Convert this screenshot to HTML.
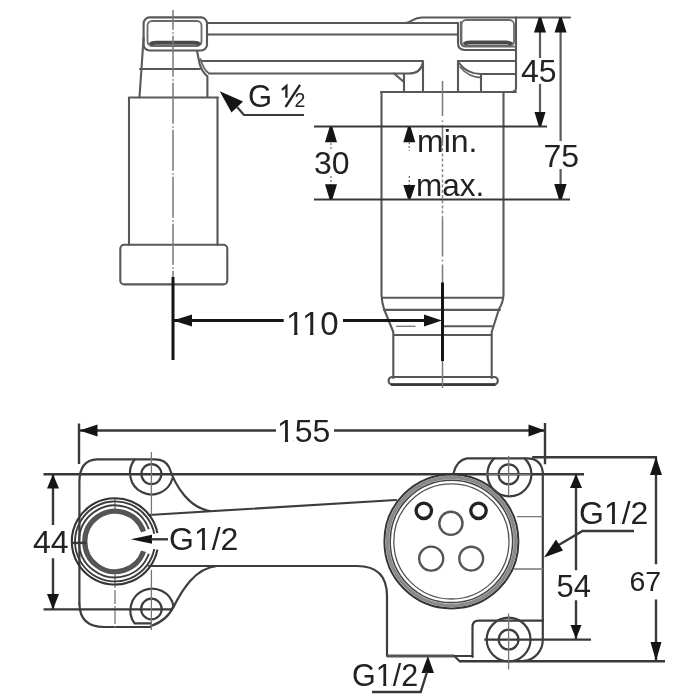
<!DOCTYPE html>
<html><head><meta charset="utf-8">
<style>
html,body{margin:0;padding:0;background:#fff;}
svg{display:block;will-change:transform;filter:blur(0.45px);}
text{font-family:"Liberation Sans",sans-serif;fill:#222;font-size:32px;opacity:0.999;}
.o{fill:none;stroke:#585858;stroke-width:2.1;stroke-linecap:round;stroke-linejoin:round;}
.g{fill:none;stroke:#6a6a6a;stroke-width:1.8;stroke-linecap:round;stroke-linejoin:round;}
.t{fill:none;stroke:#777;stroke-width:1.3;}
.d{fill:none;stroke:#383838;stroke-width:2.2;}
.k{fill:none;stroke:#151515;stroke-width:3;}
.c{fill:none;stroke:#7a7a7a;stroke-width:1.5;stroke-dasharray:41 2.5 1.5 2;}
.a{fill:#151515;stroke:none;}
.bv .o{stroke-width:2.2;stroke:#3d3d3d;}
.bv .d{stroke-width:2.4;}
</style></head><body>
<svg width="700" height="700" viewBox="0 0 700 700">
<rect width="700" height="700" fill="#fff"/>
<!-- ============ TOP VIEW ============ -->
<!-- left head -->
<rect class="o" x="143.6" y="17.4" width="63.4" height="33.1" rx="6"/>
<rect class="g" x="147.5" y="21" width="54" height="25" rx="4.5"/>
<path d="M150,44.5 Q152,42.8 156,42.8 H194 Q198,42.8 200,44.5" fill="none" stroke="#4a4a4a" stroke-width="4"/>
<!-- top bar -->
<path class="o" d="M207,23 H458"/>
<path class="o" d="M405,23 C411,23 413,17.5 422,17.5 H570"/>
<path class="o" d="M207,34.5 H458"/>
<!-- right head -->
<path class="o" d="M458,23 V43 Q458,50 465,50 H516"/>
<path class="o" d="M516,17.5 V88 Q516,92 511,92"/>
<rect class="g" x="461.5" y="20" width="52.5" height="26" rx="4.5"/>
<path d="M464,44.2 Q466,42.6 470,42.6 H506 Q510,42.6 512,44.2" fill="none" stroke="#4a4a4a" stroke-width="4"/>
<path class="g" d="M460.7,22 V42 Q460.7,46.6 466,46.6 H515"/>
<!-- lower bar -->
<path class="o" d="M201.5,61 H423 V92"/>
<path class="o" d="M209,73.5 H409 Q421,73.5 423,62"/>
<path class="o" d="M394,73.5 L404,82 M404,74 V92"/>
<!-- neck left -->
<path class="o" d="M143.6,38 L139.5,97"/>
<path class="o" d="M197,51 L199.7,64 Q201.5,71 207.4,76.5 V97"/>
<path class="g" d="M200.5,59 Q203,69 209,73.5"/>
<path class="o" d="M140,69 H200"/>
<!-- right lower head -->
<path class="o" d="M458,61 V92"/>
<path class="o" d="M458,61 H516"/>
<path class="o" d="M459,63 Q467,74 481,74 H516"/>
<path class="g" d="M460,67 Q469,77.5 481,77.5"/>
<path class="o" d="M481,75 V92"/>
<!-- left body -->
<path class="o" d="M129,97.5 H218 M129,97.5 V245 M217.5,97.5 V245"/>
<rect class="o" x="120.3" y="244.8" width="107" height="39.6" rx="4"/>
<!-- right body -->
<path class="o" d="M381,92 H516"/>
<path class="o" d="M381.5,92 V295 Q382,303 384,309 L393.3,332 V378"/>
<path class="o" d="M503.5,92 V295 Q503,303 499,309 L491.7,332 V378"/>
<path class="o" d="M382,297.7 H503"/>
<path class="o" d="M384,309.9 H500"/>
<path class="t" d="M396,326.3 H415.5"/>
<path class="o" d="M443.5,326.3 H492"/>
<path class="o" d="M394,335 H491"/>
<rect x="388.6" y="377" width="109.2" height="7.6" rx="3.8" fill="none" stroke="#555" stroke-width="2.2"/>
<path d="M391,384.6 H495.5" fill="none" stroke="#3a3a3a" stroke-width="2.8"/>
<!-- centerlines -->
<path class="c" d="M173,10 V279" stroke-dashoffset="21.25"/>
<path d="M442.5,81 V116 M442.5,120.5 V122 M442.5,125 V143 M442.5,218.5 V256.5 M442.5,259.8 V261.2 M442.5,264.5 V388" fill="none" stroke="#7a7a7a" stroke-width="1.5"/>
<path d="M442.5,143 V218.5" fill="none" stroke="#8a8a8a" stroke-width="1.5" stroke-dasharray="3 2.2"/>
<!-- dim 45/75 -->
<path class="d" d="M314,126.5 H547"/>
<path class="d" d="M314,199.5 H570"/>
<path class="d" d="M540,17.5 V58 M540,84 V126.5" style="stroke:#5a5a5a"/>
<path class="a" d="M538.8,17.6 L541.2,17.6 L546,32.4 L534,32.4Z M538.8,126.2 L541.2,126.2 L545.5,112 L534.5,112Z"/>
<path class="d" d="M560.6,17.5 V141 M560.6,169 V199.5" style="stroke:#5a5a5a"/>
<path class="a" d="M559.4,17.6 L561.8,17.6 L566.6,32.4 L554.6,32.4Z M558.9,199.3 L561.9,199.3 L566.6,184 L554.2,184Z"/>
<!-- dim 30 -->
<path class="t" d="M331,143 V150 M331,176 V185" stroke-dasharray="2 2"/>
<path class="a" d="M329.6,127 L332.4,127 L337,142.2 L325,142.2Z M329.6,199.3 L332.4,199.3 L337,184.3 L325,184.3Z"/>
<path class="a" d="M407.9,127 L410.7,127 L415.3,142.2 L403.3,142.2Z M407.9,198.8 L410.7,198.8 L415.3,185 L403.3,185Z"/>
<path class="t" d="M409.3,142 V151 M409.3,176 V185" stroke-dasharray="2 2"/>
<!-- G 1/2 leader -->
<path class="a" d="M219.7,91.2 L231.5,112.5 L243,101.5Z"/>
<path class="d" d="M237,107 L244,115 H304"/>
<!-- dim 110 -->
<path class="k" d="M173,277 V360 M442.5,282.5 V361"/>
<path class="k" d="M173,320.6 H283.7 M343,320.6 H426" stroke-width="2.8"/>
<path class="a" d="M173,320.6 L192,314.6 L192,326.6Z M442,320.6 L424,314.6 L424,326.6Z"/>
<!-- texts top -->
<text x="248" y="107" style="font-size:31px">G</text>
<path d="M282,89.8 L286.4,86 V97.8" fill="none" stroke="#222" stroke-width="2.3" stroke-linejoin="miter"/>
<path d="M285.5,107 L300,84.8" fill="none" stroke="#222" stroke-width="2.3"/>
<text x="294.6" y="107.3" style="font-size:19.5px">2</text>
<text x="521" y="82">45</text>
<text x="314" y="174">30</text>
<text x="543.5" y="167">75</text>
<text x="417" y="151.5">min.</text>
<text x="416" y="196" style="font-size:31.5px">max.</text>
<text x="286" y="335" style="font-size:33px">110</text>
<!-- ============ BOTTOM VIEW ============ -->
<g class="bv">
<!-- dim 155 -->
<path class="d" d="M79,423.5 V464 M545,423 V464.3"/>
<path class="d" d="M79,430.5 H276 M334,430.5 H545"/>
<path class="a" d="M79.5,430.5 L97.5,424.4 L97.5,436.6Z M545,430.5 L528.5,424.4 L528.5,436.6Z"/>
<text x="277" y="441.5" style="font-size:32px">155</text>
<!-- extension lines -->
<path class="d" d="M43.5,474.2 H584"/>
<path class="d" d="M43.5,609.4 H173"/>
<path class="d" d="M532.2,457.3 H657"/>
<path class="d" d="M459,661.3 H665"/>
<path class="d" d="M484.3,639.6 H591"/>
<!-- dim 44 -->
<path class="d" d="M53,474 V525 M53,558.3 V609"/>
<path class="a" d="M53,474.2 L47,488.6 L59,488.6Z M53,609.4 L47,594 L59,594Z"/>
<text x="33" y="552.5">44</text>
<!-- dim 54 -->
<path class="d" d="M576,474 V570.3 M576,600.3 V639"/>
<path class="a" d="M576,474 L570,488 L582,488Z M576,639 L570.5,625 L581.5,625Z"/>
<text x="556.5" y="597.3" style="font-size:31px">54</text>
<!-- dim 67 -->
<path class="d" d="M656,457.3 V564.3 M656,599.4 V661"/>
<path class="a" d="M656,457.3 L650,475 L662,475Z M656,661 L650.5,642 L661.5,642Z"/>
<text x="629.5" y="591" style="font-size:28.5px">67</text>
<!-- left bracket -->
<path class="o" d="M79.4,604 V482 Q79.4,460 97,459.3 H155 Q165,459.3 169,467 C176,488 190,508 210,511"/>
<path class="o" d="M149,515 L396,500"/>
<path class="o" d="M79.4,604 Q80,627 104,627 H151"/>
<path class="o" d="M149,566 H357 Q387,566 387,596 V656 H472.5"/>
<path d="M387,656 H454" fill="none" stroke="#555" stroke-width="3"/>
<path class="o" d="M173,608 C182,590 195,568 217,566"/>
<!-- bosses -->
<circle class="o" cx="151.4" cy="474.1" r="10"/>
<path class="o" d="M134.6,459.5 A21.6,21.6 0 1 0 172.3,479"/>
<circle class="o" cx="151.4" cy="609" r="10.3"/>
<path class="o" d="M134.6,623.4 A21.8,21.8 0 1 1 173.5,606 M134.6,623.4 H151"/>
<path class="o" d="M151,626 Q168,620 173.5,606"/>
<path class="t" d="M151.4,452 V515 M151.4,570 V630"/>
<path class="t" d="M115,498.6 V512 M115,570 V628" stroke-dasharray="14 2 2 2"/>
<!-- left ring -->
<path d="M157.41,533.16 A43.2,43.2 0 1 0 157.41,549.64" fill="none" stroke="#333" stroke-width="2.1"/>
<path d="M154.27,533.77 A40,40 0 1 0 154.27,549.03" fill="none" stroke="#3d3d3d" stroke-width="1.9"/>
<path d="M148.83,529.09 A36,36 0 1 0 148.83,553.71" fill="none" stroke="#3d3d3d" stroke-width="1.9"/>
<path d="M143.55,531.57 A30.2,30.2 0 1 0 143.55,551.23" fill="none" stroke="#555" stroke-width="5.2"/>
<path class="d" d="M71.4,542.9 H86.4"/>
<path class="a" d="M130.7,539.3 L152,534.8 L152,543.8Z"/>
<path class="d" d="M151,539.3 H168"/>
<text x="169" y="550">G1/2</text>
<!-- right bracket -->
<path class="o" d="M453.6,473 Q457,460 467,458.4 H527 Q541,458.4 542.8,472 V639.6 A20,21 0 0 1 523.6,660.8"/>
<path class="o" d="M472.5,657 V627 Q472.5,620.7 478.5,620.7 H543"/>
<path class="o" d="M454.4,656 L459.1,660.8"/>
<path class="t" d="M517,516.6 H543 M514,569 H543"/>
<circle cx="451.4" cy="541.4" r="67" fill="none" stroke="#333" stroke-width="2"/>
<circle cx="451.4" cy="541.4" r="64" fill="none" stroke="#8a8a8a" stroke-width="3.6"/>
<circle cx="451.4" cy="541.4" r="61.2" fill="none" stroke="#444" stroke-width="1.5"/>
<circle cx="451.4" cy="541.4" r="57.6" fill="none" stroke="#555" stroke-width="1.3"/>
<circle cx="423.8" cy="510.8" r="7.7" fill="none" stroke="#222" stroke-width="3.3"/>
<circle cx="478.5" cy="510.8" r="7.7" fill="none" stroke="#222" stroke-width="3.3"/>
<circle cx="450.9" cy="523.3" r="11.6" fill="none" stroke="#555" stroke-width="2.4"/>
<circle cx="431.2" cy="558.6" r="12" fill="none" stroke="#555" stroke-width="2.4"/>
<circle cx="471.2" cy="558.6" r="11.9" fill="none" stroke="#555" stroke-width="2.4"/>
<!-- right bosses -->
<circle class="o" cx="508.6" cy="474.3" r="10"/>
<path class="o" d="M494.2,458.4 A22,22 0 1 0 524.6,458.4"/>
<circle class="o" cx="508.6" cy="639.6" r="9.9"/>
<circle class="o" cx="508.6" cy="639.6" r="21.9"/>
<path class="t" d="M508.6,456 V495.3 M486,474.3 H531 M508.6,613.6 V669.4"/>
<!-- G1/2 right leader -->
<path class="d" d="M634,531 H582.5 L557,546"/>
<path class="a" d="M544,557.5 L556,539.5 L563,550.5Z"/>
<text x="579" y="524">G1/2</text>
<!-- G1/2 bottom leader -->
<path class="a" d="M427.9,656 L421.5,673 L434,673Z"/>
<path class="d" d="M427,672 L420.7,692 H372"/>
<text x="352" y="686" style="font-size:30.5px">G1/2</text>
<!-- remove feet of 1 glyphs -->
<rect x="287.55" y="331.29" width="6.60" height="4.54" fill="#fff"/>
<rect x="297.45" y="331.29" width="5.57" height="4.54" fill="#fff"/>
<rect x="303.44" y="331.29" width="6.60" height="4.54" fill="#fff"/>
<rect x="313.34" y="331.29" width="5.57" height="4.54" fill="#fff"/>
<rect x="278.50" y="437.90" width="6.40" height="4.40" fill="#fff"/>
<rect x="288.10" y="437.90" width="5.40" height="4.40" fill="#fff"/>
<rect x="195.39" y="546.40" width="6.40" height="4.40" fill="#fff"/>
<rect x="204.99" y="546.40" width="5.40" height="4.40" fill="#fff"/>
<rect x="605.39" y="520.40" width="6.40" height="4.40" fill="#fff"/>
<rect x="614.99" y="520.40" width="5.40" height="4.40" fill="#fff"/>
<rect x="377.15" y="682.57" width="6.10" height="4.19" fill="#fff"/>
<rect x="386.30" y="682.57" width="5.15" height="4.19" fill="#fff"/>
</g>
</svg>
</body></html>
